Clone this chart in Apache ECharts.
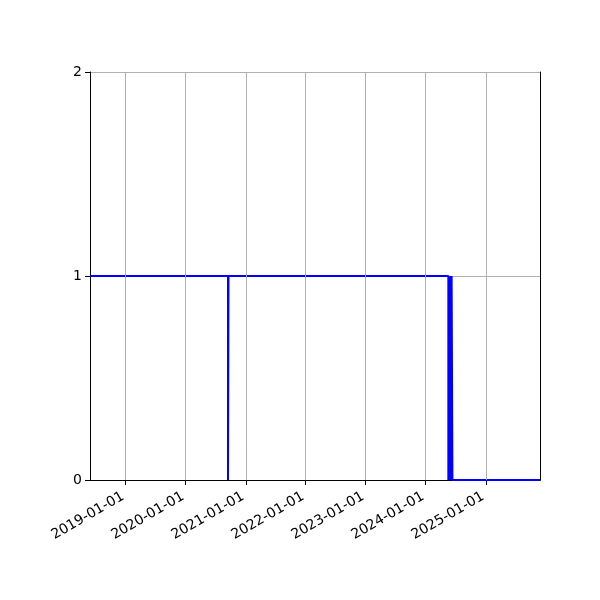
<!DOCTYPE html>
<html>
<head>
<meta charset="utf-8">
<script src="https://cdn.jsdelivr.net/npm/echarts@6/dist/echarts.min.js"></script>
<style>
  html, body { margin: 0; padding: 0; background: #fff; }
  #chart { width: 600px; height: 600px; }
</style>
</head>
<body>
<div id="chart"></div>
<script>
// step series: each value holds until the next date
var dates = ['2018-05-29', '2020-09-15', '2020-09-18', '2024-05-18', '2024-05-22',
  '2024-05-26', '2024-05-30', '2024-06-03', '2024-06-07', '2024-06-12', '2025-11-27'];
var values = [1, 0, 1, 0, 1, 0, 1, 0, 1, 0, 0];
var x_ticks = ['2019-01-01', '2020-01-01', '2021-01-01', '2022-01-01', '2023-01-01', '2024-01-01', '2025-01-01'];
var y_ticks = [0, 1, 2];

function draw_step_chart() {
  var chart = echarts.init(document.getElementById('chart'));
  var font = 'DejaVu Sans';
  var tick_times = x_ticks.map(function (d) { return +new Date(d + 'T00:00:00Z'); });
  var series_data = [];
  for (var i = 0; i < dates.length; i++) {
    series_data.push([+new Date(dates[i] + 'T00:00:00Z'), values[i]]);
  }
  var x_min = series_data[0][0];
  var x_max = series_data[series_data.length - 1][0];
  var frame = { show: true, lineStyle: { color: '#000', width: 1 } };

  var option = {
    animation: false,
    grid: { left: 90, right: 60, top: 72, bottom: 120 },
    xAxis: [{
      // timestamps on a value axis, ticks placed on the year starts
      type: 'value',
      min: x_min,
      max: x_max,
      axisLine: frame,
      axisTick: { show: true, length: 5, lineStyle: { color: '#000' }, customValues: tick_times },
      splitLine: { show: false },
      axisLabel: {
        customValues: tick_times,
        rotate: 30,
        margin: 14,
        padding: [0, 3, 0, 0],
        color: '#000',
        fontFamily: font,
        fontSize: 14,
        formatter: function (v) {
          var d = new Date(v);
          var m = d.getUTCMonth() + 1, dd = d.getUTCDate();
          return d.getUTCFullYear() + '-' + (m < 10 ? '0' : '') + m + '-' + (dd < 10 ? '0' : '') + dd;
        }
      }
    }, {
      // top frame line
      type: 'value', position: 'top', min: x_min, max: x_max,
      axisLine: frame, axisTick: { show: false }, axisLabel: { show: false }, splitLine: { show: false }
    }],
    yAxis: [{
      type: 'value',
      min: y_ticks[0],
      max: y_ticks[y_ticks.length - 1],
      interval: 1,
      axisLine: frame,
      axisTick: { show: true, length: 5, lineStyle: { color: '#000' } },
      splitLine: { show: true, lineStyle: { color: '#b0b0b0', width: 1 } },
      axisLabel: { color: '#000', fontFamily: font, fontSize: 14, margin: 8 }
    }, {
      // right frame line
      type: 'value', position: 'right', min: 0, max: 2,
      axisLine: frame, axisTick: { show: false }, axisLabel: { show: false }, splitLine: { show: false }
    }],
    series: [{
      // vertical grid lines at the year ticks
      type: 'line',
      data: [],
      z: 1,
      silent: true,
      markLine: {
        symbol: 'none',
        silent: true,
        label: { show: false },
        lineStyle: { color: '#b0b0b0', width: 1, type: 'solid' },
        data: tick_times.map(function (t) { return { xAxis: t }; })
      }
    }, {
      type: 'line',
      step: 'end',
      data: series_data,
      z: 3,
      showSymbol: false,
      lineStyle: { color: '#0000ff', width: 2 }
    }]
  };
  chart.setOption(option);
}

draw_step_chart();
</script>
</body>
</html>
